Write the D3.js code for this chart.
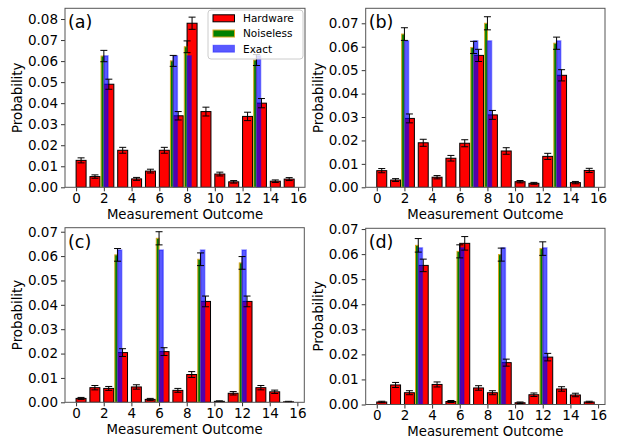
<!DOCTYPE html>
<html>
<head>
<meta charset="utf-8">
<script src="https://cdn.jsdelivr.net/npm/d3@7"></script>
<style>
  html, body { margin: 0; padding: 0; background: #fff; }
  svg { display: block; font-family: "DejaVu Sans", sans-serif; }
</style>
</head>
<body>
<svg id="chart" width="618" height="439"></svg>
<script>
// ---------------- data ----------------
const outcomes = [0, 1, 2, 3, 4, 5, 6, 7, 8, 9, 10, 11, 12, 13, 14, 15];
const xTickLabels = [0, 2, 4, 6, 8, 10, 12, 14, 16];
const yTicksA = [0, 0.01, 0.02, 0.03, 0.04, 0.05, 0.06, 0.07, 0.08];
const yTicksBCD = [0, 0.01, 0.02, 0.03, 0.04, 0.05, 0.06, 0.07];
const seriesNames = ["Hardware", "Noiseless", "Exact"];
const panelLabels = ["(a)", "(b)", "(c)", "(d)"];

// panel (a)
const hardwareA = [0.0128, 0.0051, 0.0490, 0.0176, 0.0040, 0.0077, 0.0176, 0.0340, 0.0780, 0.0360, 0.0063, 0.0026, 0.0337, 0.0400, 0.0029, 0.0039];
const hardwareErrA = [0.0012, 0.0008, 0.0024, 0.0014, 0.0007, 0.0009, 0.0014, 0.0020, 0.0029, 0.0021, 0.0009, 0.0006, 0.0020, 0.0022, 0.0006, 0.0007];
const noiselessA = [0, 0, 0.0624, 0, 0, 0, 0, 0.0601, 0.0668, 0, 0, 0, 0, 0.0605, 0, 0];
const noiselessErrA = [0, 0, 0.0027, 0, 0, 0, 0, 0.0026, 0.0028, 0, 0, 0, 0, 0.0026, 0, 0];
const exactA = [0, 0, 0.0625, 0, 0, 0, 0, 0.0625, 0.0625, 0, 0, 0, 0, 0.0625, 0, 0];

// panel (b)
const hardwareB = [0.0071, 0.0031, 0.0294, 0.0190, 0.0043, 0.0124, 0.0188, 0.0563, 0.0309, 0.0155, 0.0024, 0.0017, 0.0132, 0.0478, 0.0020, 0.0072];
const hardwareErrB = [0.0009, 0.0006, 0.0019, 0.0015, 0.0007, 0.0012, 0.0015, 0.0026, 0.0019, 0.0014, 0.0005, 0.0004, 0.0013, 0.0024, 0.0005, 0.0009];
const noiselessB = [0, 0, 0.0654, 0, 0, 0, 0, 0.0597, 0.0700, 0, 0, 0, 0, 0.0615, 0, 0];
const noiselessErrB = [0, 0, 0.0027, 0, 0, 0, 0, 0.0026, 0.0028, 0, 0, 0, 0, 0.0026, 0, 0];
const exactB = [0, 0, 0.0625, 0, 0, 0, 0, 0.0625, 0.0625, 0, 0, 0, 0, 0.0625, 0, 0];

// panel (c)
const hardwareC = [0.0016, 0.0060, 0.0057, 0.0204, 0.0063, 0.0012, 0.0208, 0.0049, 0.0114, 0.0414, 0.0004, 0.0037, 0.0414, 0.0060, 0.0043, 0.0002];
const hardwareErrC = [0.0004, 0.0009, 0.0008, 0.0016, 0.0009, 0.0004, 0.0016, 0.0008, 0.0012, 0.0022, 0.0002, 0.0007, 0.0022, 0.0009, 0.0007, 0.0002];
const noiselessC = [0, 0, 0, 0.0605, 0, 0, 0.0673, 0, 0, 0.0587, 0, 0, 0.0572, 0, 0, 0];
const noiselessErrC = [0, 0, 0, 0.0026, 0, 0, 0.0027, 0, 0, 0.0026, 0, 0, 0.0026, 0, 0, 0];
const exactC = [0, 0, 0, 0.0625, 0, 0, 0.0625, 0, 0, 0.0625, 0, 0, 0.0625, 0, 0, 0];

// panel (d)
const hardwareD = [0.0010, 0.0078, 0.0047, 0.0555, 0.0080, 0.0012, 0.0643, 0.0066, 0.0047, 0.0167, 0.0007, 0.0039, 0.0189, 0.0062, 0.0038, 0.0010];
const hardwareErrD = [0.0003, 0.0010, 0.0008, 0.0025, 0.0010, 0.0004, 0.0027, 0.0009, 0.0008, 0.0014, 0.0003, 0.0007, 0.0015, 0.0009, 0.0007, 0.0003];
const noiselessD = [0, 0, 0, 0.0635, 0, 0, 0.0611, 0, 0, 0.0598, 0, 0, 0.0622, 0, 0, 0];
const noiselessErrD = [0, 0, 0, 0.0027, 0, 0, 0.0026, 0, 0, 0.0026, 0, 0, 0.0027, 0, 0, 0];
const exactD = [0, 0, 0, 0.0625, 0, 0, 0.0625, 0, 0, 0.0625, 0, 0, 0.0625, 0, 0, 0];

// ---------------- layout ----------------
const panels = [
  { label: panelLabels[0], hw: hardwareA, hwErr: hardwareErrA, nl: noiselessA, nlErr: noiselessErrA, ex: exactA, yTicks: yTicksA,   yMax: 0.0851, left: 65,    right: 305, top: 8.3,   bottom: 187.3, legend: true },
  { label: panelLabels[1], hw: hardwareB, hwErr: hardwareErrB, nl: noiselessB, nlErr: noiselessErrB, ex: exactB, yTicks: yTicksBCD, yMax: 0.0764, left: 365.7, right: 605, top: 8.3,   bottom: 187.3 },
  { label: panelLabels[2], hw: hardwareC, hwErr: hardwareErrC, nl: noiselessC, nlErr: noiselessErrC, ex: exactC, yTicks: yTicksBCD, yMax: 0.07165, left: 65,   right: 304.3, top: 227.7, bottom: 402.3 },
  { label: panelLabels[3], hw: hardwareD, hwErr: hardwareErrD, nl: noiselessD, nlErr: noiselessErrD, ex: exactD, yTicks: yTicksBCD, yMax: 0.0703, left: 365.7, right: 605, top: 228.3, bottom: 404.5 }
];

const colors = { hw: "#ff0000", hwEdge: "#000", nl: "#008000", nlEdge: "#DAA520", ex: "#0000ff" };
const exAlpha = 0.65;
const hwWidth = 0.72, nlWidth = 0.2, exWidth = 0.3;
const fontSize = 13.5;
const labelSize = 13.3;
const xLabelOffset = 31.2;

const svg = d3.select("#chart");

panels.forEach(p => {
  const x = d3.scaleLinear().domain([-0.8, 16.5]).range([p.left, p.right]);
  const y = d3.scaleLinear().domain([0, p.yMax]).range([p.bottom, p.top]);
  const g = svg.append("g");

  const clipId = "clip" + p.label.replace(/\W/g, "");
  svg.append("clipPath").attr("id", clipId).append("rect")
    .attr("x", p.left).attr("y", p.top).attr("width", p.right - p.left).attr("height", p.bottom - p.top);
  const plot = g.append("g").attr("clip-path", `url(#${clipId})`);

  // hardware bars
  plot.selectAll(".hw").data(outcomes).join("rect")
    .attr("x", d => x(d))
    .attr("width", d => x(d + hwWidth) - x(d))
    .attr("y", d => y(p.hw[d]))
    .attr("height", d => y(0) - y(p.hw[d]))
    .attr("fill", colors.hw).attr("stroke", colors.hwEdge).attr("stroke-width", 1);

  // noiseless bars
  const nz = outcomes.filter(d => p.nl[d] > 0);
  plot.selectAll(".nl").data(nz).join("rect")
    .attr("x", d => x(d - nlWidth))
    .attr("width", d => x(d) - x(d - nlWidth))
    .attr("y", d => y(p.nl[d]))
    .attr("height", d => y(0) - y(p.nl[d]))
    .attr("fill", colors.nl).attr("stroke", colors.nlEdge).attr("stroke-width", 1);

  // exact bars
  const ez = outcomes.filter(d => p.ex[d] > 0);
  plot.selectAll(".ex").data(ez).join("rect")
    .attr("x", d => x(d))
    .attr("width", d => x(d + exWidth) - x(d))
    .attr("y", d => y(p.ex[d]))
    .attr("height", d => y(0) - y(p.ex[d]))
    .attr("fill", colors.ex).attr("fill-opacity", exAlpha)
    .attr("stroke", colors.ex).attr("stroke-opacity", exAlpha * 0.6).attr("stroke-width", 1.5);

  // error bars
  const cap = 3.5;
  function errBars(idx, vals, errs, xpos) {
    const eg = plot.append("g").attr("stroke", "#000").attr("stroke-width", 1);
    idx.forEach(d => {
      const cx = x(xpos(d));
      const y1 = y(vals[d] + errs[d]), y2 = y(vals[d] - errs[d]);
      eg.append("line").attr("x1", cx).attr("x2", cx).attr("y1", y1).attr("y2", y2);
      eg.append("line").attr("x1", cx - cap).attr("x2", cx + cap).attr("y1", y1).attr("y2", y1);
      eg.append("line").attr("x1", cx - cap).attr("x2", cx + cap).attr("y1", y2).attr("y2", y2);
    });
  }
  errBars(outcomes, p.hw, p.hwErr, d => d + hwWidth / 2);
  errBars(nz, p.nl, p.nlErr, d => d);

  // axes
  const xAxis = d3.axisBottom(x).tickValues(xTickLabels).tickFormat(d3.format("d")).tickSize(4).tickSizeOuter(0).tickPadding(2);
  const yAxis = d3.axisLeft(y).tickValues(p.yTicks).tickFormat(d3.format(".2f")).tickSize(4).tickSizeOuter(0).tickPadding(3);
  const gx = g.append("g").attr("transform", `translate(0,${p.bottom})`).call(xAxis);
  const gy = g.append("g").attr("transform", `translate(${p.left},0)`).call(yAxis);
  [gx, gy].forEach(a => {
    a.select(".domain").remove();
    a.selectAll("text").attr("font-size", fontSize).attr("font-family", "DejaVu Sans").attr("fill", "#000");
    a.selectAll("line").attr("stroke", "#000").attr("stroke-width", 0.8);
  });

  // frame
  g.append("rect").attr("x", p.left).attr("y", p.top)
    .attr("width", p.right - p.left).attr("height", p.bottom - p.top)
    .attr("fill", "none").attr("stroke", "#555").attr("stroke-width", 1);

  // axis labels
  g.append("text").attr("x", (p.left + p.right) / 2).attr("y", p.bottom + xLabelOffset)
    .attr("text-anchor", "middle").attr("font-size", labelSize).text("Measurement Outcome");
  g.append("text")
    .attr("transform", `translate(${p.left - 43},${(p.top + p.bottom) / 2}) rotate(-90)`)
    .attr("text-anchor", "middle").attr("font-size", labelSize).text("Probability");

  // panel label
  g.append("text").attr("x", p.left + 3).attr("y", p.top + 20)
    .attr("font-size", 17.5).text(p.label);

  // legend
  if (p.legend) {
    const lg = g.append("g");
    lg.append("rect").attr("x", 208).attr("y", 10).attr("width", 95).attr("height", 49)
      .attr("rx", 3).attr("fill", "#fff").attr("fill-opacity", 0.8).attr("stroke", "#ccc").attr("stroke-width", 1);
    const items = [
      { name: seriesNames[0], fill: colors.hw, stroke: colors.hwEdge, op: 1 },
      { name: seriesNames[1], fill: colors.nl, stroke: colors.nlEdge, op: 1 },
      { name: seriesNames[2], fill: colors.ex, stroke: colors.ex, op: exAlpha }
    ];
    items.forEach((it, i) => {
      const cy = 18.3 + i * 15.2;
      lg.append("rect").attr("x", 213).attr("y", cy - 3.5).attr("width", 21.5).attr("height", 7)
        .attr("fill", it.fill).attr("fill-opacity", it.op)
        .attr("stroke", it.stroke).attr("stroke-opacity", it.op < 1 ? it.op * 0.6 : 1).attr("stroke-width", 1);
      lg.append("text").attr("x", 243).attr("y", cy + 3.8).attr("font-size", 10.5).text(it.name);
    });
  }
});
</script>
</body>
</html>
